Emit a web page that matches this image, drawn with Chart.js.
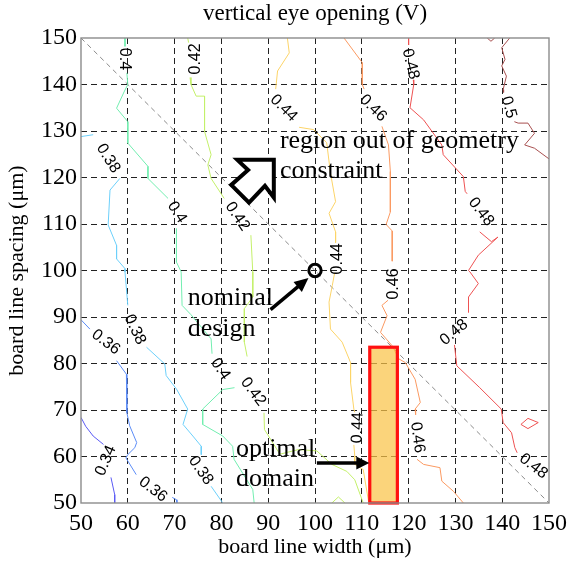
<!DOCTYPE html>
<html>
<head>
<meta charset="utf-8">
<script src="https://cdn.jsdelivr.net/npm/chart.js@4.4.0/dist/chart.umd.min.js"></script>
<style>
  html, body { margin: 0; padding: 0; background: #fff; }
  #wrap { width: 573px; height: 563px; }
  canvas { display: block; }
</style>
</head>
<body>
<div id="wrap"><canvas id="c" width="573" height="563"></canvas></div>
<script>
// ---- axis ticks (board line width / spacing, um) ----
const xTicks = [50, 60, 70, 80, 90, 100, 110, 120, 130, 140, 150];
const yTicks = [50, 60, 70, 80, 90, 100, 110, 120, 130, 140, 150];

// ---- contour levels of vertical eye opening (V) ----
const levels = [0.34, 0.36, 0.38, 0.4, 0.42, 0.44, 0.46, 0.48, 0.5];

// contour paths as [width, spacing]; null breaks the line where a level label sits
const c034 = [[50,68.4],[51,66.5],[52.6,64.4],[54.8,62.6], null,
  [56.4,55.5],[57.2,51.8],[57.2,50]];
const c036 = [[50,89.4],[51.9,87.4], null,
  [57.6,80.6],[59.7,77.7],[59.8,69.4],[60.4,66.6],[61.9,63],[61.5,61.9],[60,60.4],[59.6,59.7],[61.8,56.1], null,
  [69.5,51.2],[70.4,50.7],[70.5,50]];
const c038 = [[50,128.8],[52.6,129.2], null,
  [58.3,119.8],[56.2,117.3],[55.8,109.8],[57.6,105.4],[57.6,102.5],[59.4,100.4],[59.4,99.7],[60,92.5], null,
  [64,83.5],[67.9,79.9],[68.2,77.4],[70.4,74.5],[72.8,70.2],[71.8,66.9],[73.9,64.4],[75.7,62.2],[75.7,60.4], null,
  [77.8,53.6],[80.3,50]];
const c040 = [[59.4,150],[59.4,148.2], null,
  [59.8,142.5],[60,140],[59.2,138.4],[57.6,134.9],[60,132],[60,127.4],[64.3,122.4],[64.3,119.8],[68.6,115.5], null,
  [70.4,109],[70.4,101.8],[71.4,99.7],[71.6,92.5],[73.5,90.5],[77.8,85.3],[78,82.1], null,
  [82.8,74.8],[80.3,74.4],[76,70.2],[76,66.9],[80.3,64.4],[82.4,62.2],[82.7,59.4],[86.7,52.9],[87,50]];
const c042 = [[72.8,150],[73,149], null,
  [73.3,141.5],[73.5,140],[74.6,137.5],[76.4,137.5],[76.4,129.9],[77.8,124.9],[77.1,122.7],[77.8,119.8],[80.6,115.5], null,
  [86.3,107.6],[86.7,99.7],[86.7,94.3],[84.9,91.8],[84.9,84.6],[85.5,81.5], null,
  [89.1,69.4],[89.2,65.8],[92.5,60.5],[96.5,61.5],[100.4,61.2],[103.6,58.3],[106.8,56.8],[108.5,55],[110.3,50]];
const c042b = [[103.6,50],[105,51.3],[106.4,50]];
const c044 = [[94.1,150],[94.5,146.8],[92,142.9],[91.6,139], null,
  [96.6,130.8],[99.7,130.3],[102.5,127.5],[103.3,121],[104.4,114.8],[103,112.3],[104.4,108.3],[104.4,106], null,
  [104.2,99.5],[103.7,96.8],[103,93.2],[103.3,87.4],[105.8,84.6],[107.6,80.2],[107.6,75.9],[108.3,70.2],[108.5,69.5], null,
  [108.3,62.5],[108.5,60.1],[108.5,58.3],[110.3,57.2],[111.5,50]];
const c046 = [[106.2,150],[110.1,144.7],[110.1,140],[110.5,139], null,
  [114.3,131],[115.7,127],[116.1,121.3],[116.1,112.6],[115.2,109.9],[116.5,108.5],[116.5,102], null,
  [115.6,93.6],[114.3,92.5],[115.4,90.3],[114,86.7],[116.5,83.8],[117.9,81],[119.3,80.2],[121.4,76.6],[122.5,71.6],[121.4,70.2],[121.5,69], null,
  [121.8,59.4],[123.2,58.3],[126.7,57.6],[127.1,54.7],[129.6,52.5],[131.7,50]];
const c048 = [[120,150],[120,148.5], null,
  [121,141],[121.1,140],[120.3,135],[123.2,132.4],[127.1,127],[127.4,124.9],[131.7,120.2],[132.1,117],[132.5,116.5], null,
  [135.2,108.3],[137.7,106.2],[139.1,107.2],[134.9,103.3],[132.8,100],[133.1,99.7],[134.9,97.2],[132.8,94.3],[132.8,91], null,
  [129.8,84],[130.3,79.5],[135.2,74.8],[139.8,70.2],[140.2,67.3],[142,65.1],[142.7,61.9],[143.2,60.8]];
const c048b = [[144,66.9],[145.5,68.2],[147.7,67.3],[145.5,66],[144,66.9]];
const c050 = [[141.6,150],[139.9,147.9],[140.6,145.4],[139.9,144],[140.9,141.8],[140.2,138.9],[140.3,138.3], null,
  [142.6,132],[143.4,131.7],[145.5,131.7],[146.9,129.5],[144.8,127],[146.9,126.3],[150,124]];
const c050b = [[136.8,150],[137.6,149.3],[138.4,150]];

// where each level value is written along its contour: [level, width, spacing, angle in deg]
const labelSpots = [
  [0.34, 55.3, 59.1, -67], [0.36, 55.3, 84.6, 37], [0.36, 65.4, 52.9, 38],
  [0.38, 55.8, 124.1, 58], [0.38, 61.5, 87.3, 65], [0.38, 75.6, 57.0, 55],
  [0.4, 59.3, 145.5, 90], [0.4, 70.5, 112.5, 58], [0.4, 79.8, 78.8, 56],
  [0.42, 74.4, 145.5, -90], [0.42, 83.4, 111.6, 56], [0.42, 86.8, 73.9, 53],
  [0.44, 93.3, 134.9, 45], [0.44, 104.8, 102.5, -90], [0.44, 109.1, 66.2, -88],
  [0.46, 112.4, 134.9, 45], [0.46, 116.7, 97.1, -90], [0.46, 121.9, 64.1, 82],
  [0.48, 120.4, 144.4, 76], [0.48, 135.5, 112.6, 52], [0.48, 129.7, 86.7, -40], [0.48, 146.7, 57.9, 38],
  [0.5, 141.4, 135.1, 75]
];

// geometry constraint: spacing + width = 200
const constraintLine = [[50,150],[150,50]];
// nominal design point and optimal domain (width range, spacing range)
const nominalDesign = [100, 100];
const optimalWidth = [111.7, 117.6];
const optimalSpacing = [50, 83.5];

// ---- styling ----
const levelColors = ['#5a5af5', '#5b8cf7', '#6cd0fb', '#72eeb0', '#c4f06a', '#fcd468', '#fb9a62', '#ee5252', '#a85050'];
const SERIF = "'Liberation Serif', 'Times New Roman', serif";
const SANS = "'Liberation Sans', Arial, sans-serif";

function toPoints(path) {
  return path.map(p => p ? {x: p[0], y: p[1]} : {x: null, y: null});
}

const pathsByLevel = [[c034], [c036], [c038], [c040], [c042, c042b], [c044], [c046], [c048, c048b], [c050, c050b]];
const datasets = [];
pathsByLevel.forEach((paths, i) => {
  paths.forEach(path => datasets.push({
    label: String(levels[i]),
    data: toPoints(path),
    showLine: true,
    borderColor: levelColors[i],
    borderWidth: 1,
    pointRadius: 0,
    spanGaps: false,
    tension: 0
  }));
});
datasets.push({
  label: 'constraint',
  data: toPoints(constraintLine),
  showLine: true,
  borderColor: '#8a8a8a',
  borderWidth: 1,
  borderDash: [5, 4],
  pointRadius: 0
});

function arrowLine(ctx, x0, y0, x1, y1, lw, headLen, headHalf) {
  const a = Math.atan2(y1 - y0, x1 - x0);
  const bx = x1 - headLen * Math.cos(a), by = y1 - headLen * Math.sin(a);
  ctx.save();
  ctx.strokeStyle = '#000';
  ctx.fillStyle = '#000';
  ctx.lineWidth = lw;
  ctx.lineCap = 'butt';
  ctx.beginPath(); ctx.moveTo(x0, y0); ctx.lineTo(bx + 2 * Math.cos(a), by + 2 * Math.sin(a)); ctx.stroke();
  ctx.beginPath();
  ctx.moveTo(x1, y1);
  ctx.lineTo(bx - headHalf * Math.sin(a), by + headHalf * Math.cos(a));
  ctx.lineTo(bx + headHalf * Math.sin(a), by - headHalf * Math.cos(a));
  ctx.closePath(); ctx.fill();
  ctx.restore();
}

const frameAndNotes = {
  id: 'frameAndNotes',
  afterDatasetsDraw(chart) {
    const ctx = chart.ctx;
    const sx = chart.scales.x, sy = chart.scales.y;
    const P = (x, y) => [sx.getPixelForValue(x), sy.getPixelForValue(y)];
    const ca = chart.chartArea;

    // optimal domain
    const [bx0, by0] = P(optimalWidth[0], optimalSpacing[1]);
    const [bx1, by1] = P(optimalWidth[1], optimalSpacing[0]);
    ctx.save();
    ctx.fillStyle = 'rgba(250, 196, 72, 0.72)';
    ctx.fillRect(bx0, by0, bx1 - bx0, by1 - by0);
    ctx.strokeStyle = '#ff1010';
    ctx.lineWidth = 3.2;
    ctx.strokeRect(bx0, by0, bx1 - bx0, by1 - by0);
    ctx.restore();

    // contour level labels
    ctx.save();
    ctx.fillStyle = '#000';
    ctx.font = '16px ' + SANS;
    ctx.textAlign = 'center';
    ctx.textBaseline = 'middle';
    labelSpots.forEach(([lv, x, y, ang]) => {
      const [u, v] = P(x, y);
      ctx.save();
      ctx.translate(u, v);
      ctx.rotate(ang * Math.PI / 180);
      ctx.fillText(String(lv), 0, 0);
      ctx.restore();
    });
    ctx.restore();

    // frame
    ctx.save();
    ctx.strokeStyle = '#8c8c8c';
    ctx.lineWidth = 1.4;
    ctx.strokeRect(ca.left, ca.top, ca.right - ca.left, ca.bottom - ca.top);
    ctx.restore();

    // nominal design marker
    const [nx, ny] = P(nominalDesign[0], nominalDesign[1]);
    ctx.save();
    ctx.strokeStyle = '#000';
    ctx.lineWidth = 3;
    ctx.beginPath(); ctx.arc(nx, ny, 6.2, 0, Math.PI * 2); ctx.stroke();
    ctx.restore();

    // hollow arrow pointing into the region beyond the constraint
    const hollow = [[83.4,123.8],[91.2,123.8],[91.2,115.7],[89.3,118.2],[85.9,114.6],[82.1,118.4],[85.7,121.6]];
    ctx.save();
    ctx.beginPath();
    hollow.forEach((p, i) => { const [u, v] = P(p[0], p[1]); i ? ctx.lineTo(u, v) : ctx.moveTo(u, v); });
    ctx.closePath();
    ctx.fillStyle = '#fff';
    ctx.fill();
    ctx.lineWidth = 4;
    ctx.lineJoin = 'miter';
    ctx.strokeStyle = '#000';
    ctx.stroke();
    ctx.restore();

    // pointer arrows
    let a = P(90.5, 91.6), b = P(98.6, 98.4);
    arrowLine(ctx, a[0], a[1], b[0], b[1], 3.5, 14, 6.5);
    a = P(100.4, 58.6); b = P(111.6, 58.6);
    arrowLine(ctx, a[0], a[1], b[0], b[1], 3.5, 13, 6.5);

    // annotation text
    ctx.save();
    ctx.fillStyle = '#000';
    ctx.font = '26px ' + SERIF;
    ctx.textAlign = 'left';
    ctx.textBaseline = 'alphabetic';
    const notes = [
      ['region out of geometry', 92.5, 126.3],
      ['constraint', 92.5, 119.8],
      ['nominal', 72.8, 92.5],
      ['design', 72.8, 86.0],
      ['optimal', 83.1, 60.1],
      ['domain', 83.1, 53.6]
    ];
    notes.forEach(([t, x, y]) => { const [u, v] = P(x, y); ctx.fillText(t, u, v); });
    ctx.restore();
  }
};

const gridColor = c => (c.tick && (c.tick.value === 50 || c.tick.value === 150)) ? 'rgba(0,0,0,0)' : '#222';

new Chart(document.getElementById('c'), {
  type: 'scatter',
  data: { datasets },
  options: {
    responsive: false,
    animation: false,
    devicePixelRatio: 1,
    layout: { padding: { top: 0, left: 0, right: 18, bottom: 0 } },
    plugins: {
      legend: { display: false },
      tooltip: { enabled: false },
      title: {
        display: true,
        text: 'vertical eye opening (V)',
        color: '#000',
        font: { family: SERIF, size: 23, weight: 'normal' },
        padding: { top: 0, bottom: 10.4 },
        fullSize: false
      }
    },
    scales: {
      x: {
        type: 'linear', min: 50, max: 150,
        afterFit: s => { s.height = 60; },
        afterBuildTicks: s => { s.ticks = xTicks.map(v => ({ value: v })); },
        ticks: { color: '#000', font: { family: SERIF, size: 24 }, padding: 6, maxRotation: 0, autoSkip: false },
        grid: { color: gridColor, lineWidth: 1, drawTicks: false },
        border: { display: false, dash: [6, 4] },
        title: { display: true, text: 'board line width (μm)', color: '#000', font: { family: SERIF, size: 22 }, padding: { top: 0, bottom: 3 } }
      },
      y: {
        type: 'linear', min: 50, max: 150,
        afterFit: s => { s.width = 81; },
        afterBuildTicks: s => { s.ticks = yTicks.map(v => ({ value: v })); },
        ticks: { color: '#000', font: { family: SERIF, size: 24 }, padding: 4, autoSkip: false },
        grid: { color: gridColor, lineWidth: 1, drawTicks: false },
        border: { display: false, dash: [6, 4] },
        title: { display: true, text: 'board line spacing (μm)', color: '#000', font: { family: SERIF, size: 22 }, padding: { top: 4, bottom: 0 } }
      }
    }
  },
  plugins: [frameAndNotes]
});
</script>
</body>
</html>
